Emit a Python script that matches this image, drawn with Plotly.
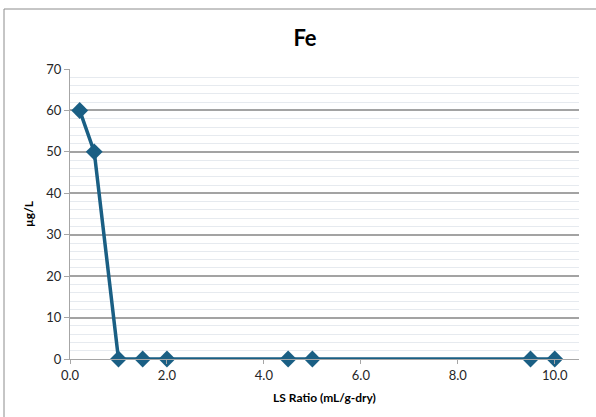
import plotly.graph_objects as go

ls_ratio = [0.2, 0.5, 1.0, 1.5, 2.0, 4.5, 5.0, 9.5, 10.0]
fe_ugL = [60, 50, 0, 0, 0, 0, 0, 0, 0]
x_ticks = [0, 2, 4, 6, 8, 10]
x_tick_labels = ["0.0", "2.0", "4.0", "6.0", "8.0", "10.0"]
y_ticks = [0, 10, 20, 30, 40, 50, 60, 70]

W, H = 596, 417
ml, mr, mt, mb = 70, 17, 69, 58
pw, ph = W - ml - mr, H - mt - mb

font = "Lato, 'Open Sans', sans-serif"
color = "#1a5f84"

fig = go.Figure()
fig.add_trace(go.Scatter(
    x=ls_ratio, y=fe_ugL, mode="lines+markers",
    line=dict(color=color, width=3.5),
    marker=dict(symbol="diamond", size=13, color=color),
    cliponaxis=False,
    showlegend=False,
))

fig.update_layout(
    width=W, height=H,
    margin=dict(l=ml, r=mr, t=mt, b=mb, autoexpand=False),
    paper_bgcolor="white", plot_bgcolor="white",
    font=dict(family=font, size=13, color="#262626"),
    title=dict(text="<b>Fe</b>", x=(305) / W, xanchor="center",
               y=1 - 38 / H, yanchor="middle", yref="container",
               font=dict(size=22, color="black", family=font)),
    xaxis=dict(range=[0, 10.5], tickvals=x_ticks, ticktext=x_tick_labels,
               automargin=False,
               showgrid=False, zeroline=False, showline=True,
               linecolor="#a6a6a6", linewidth=1,
               ticks="outside", ticklen=4, tickcolor="#a6a6a6",
               title=dict(text="<b>LS Ratio (mL/g-dry)</b>", standoff=12,
                          font=dict(size=12, color="black"))),
    yaxis=dict(range=[0, 70], tickvals=y_ticks,
               automargin=False,
               showgrid=True, gridcolor="#a3a3a3", gridwidth=1.5,
               minor=dict(dtick=2, showgrid=True, gridcolor="#e6eaef", gridwidth=1),
               zeroline=False, showline=True, linecolor="#a6a6a6", linewidth=1,
               ticks="outside", ticklen=5, tickcolor="#a6a6a6",
               title=dict(text="<b>µg/L</b>", standoff=10,
                          font=dict(size=12, color="black"))),
    shapes=[dict(type="rect", xref="paper", yref="paper",
                 x0=(4 - ml) / pw, x1=(W + 5 - ml) / pw,
                 y0=(H - mb - (H + 5)) / ph, y1=(H - mb - 9) / ph,
                 line=dict(color="#8c8c8c", width=1), layer="below")],
)

fig.write_html("out.html", config={"displayModeBar": False},
               post_script="document.body.style.margin='0';")
